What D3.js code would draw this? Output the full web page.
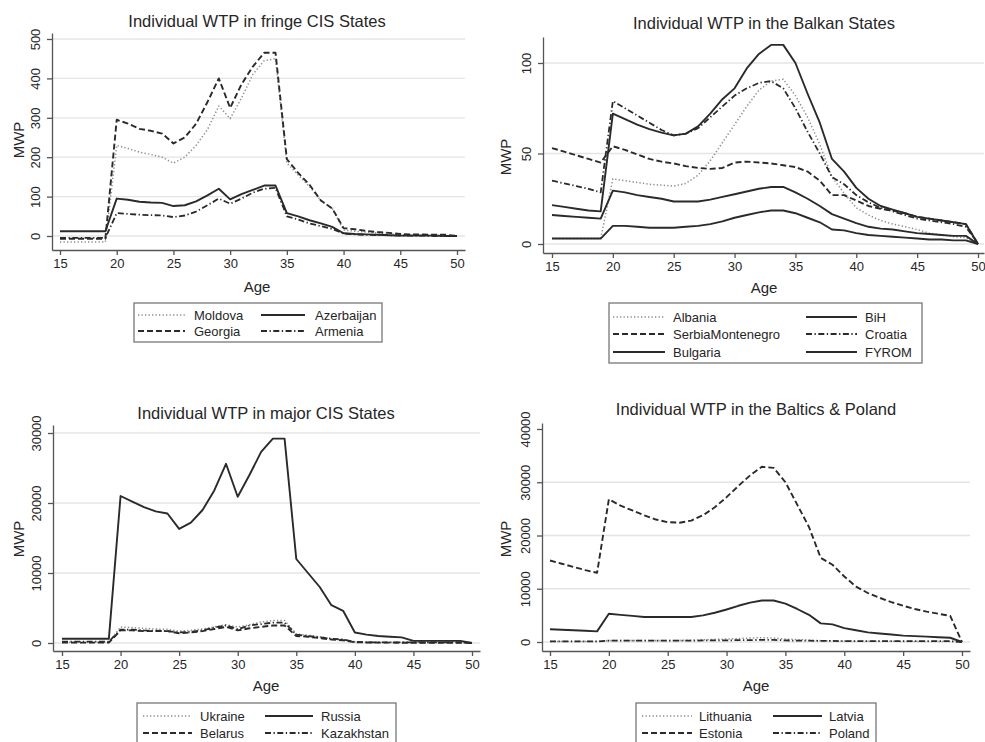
<!DOCTYPE html>
<html>
<head>
<meta charset="utf-8">
<script src="https://cdn.jsdelivr.net/npm/d3@7"></script>
<style>
  body { margin: 0; background: #fff; }
  svg { display: block; font-family: "Liberation Sans", Arial, sans-serif; }
</style>
</head>
<body>
<svg id="chart" width="985" height="742"></svg>
<script>
// ages on the x axis
var ages = [15,16,17,18,19,20,21,22,23,24,25,26,27,28,29,30,31,32,33,34,35,36,37,38,39,40,41,42,43,44,45,46,47,48,49,50];

// fringe CIS states
var moldova    = [-15,-15,-15,-15,-15, 230,222,213,207,200, 185,200,230,270,330, 298,350,410,445,450, 185,155,125,90,70, 15,12,10,8,6, 3,2,2,1,1, 0];
var azerbaijan = [12,12,12,12,12, 95,92,87,85,84, 76,78,88,103,120, 93,106,117,128,128, 58,50,40,32,23, 7,5,4,3,2, 1,1,1,1,0, 0];
var georgia    = [-7,-7,-7,-7,-7, 295,285,272,267,260, 235,250,285,340,400, 325,385,430,465,465, 195,160,130,90,70, 20,17,13,10,8, 5,4,4,3,3, 0];
var armenia    = [-5,-5,-5,-5,-5, 58,56,54,53,52, 48,52,62,78,95, 82,95,110,120,122, 50,42,32,25,18, 6,4,3,2,2, 1,1,1,0,0, 0];

// Balkan states
var albania  = [3,3,3,3,3, 36,35,34,33,32.5, 32,33.5,38,46,56, 66,76,85,90,91, 82,70,55,37,28, 20,16,13,11,9.5, 8,6,5,4,3.5, 0];
var bih      = [21.5,20.5,19.5,18.5,18, 72,69,66,63.5,61.5, 60,61,65,72,80, 86,97,105,110,110, 100,83,67,47,40, 31,25,21,19,17, 15,14,13,12,11, 0];
var serbiaMontenegro = [53,51,49,47,45, 54,52,49.5,47,45.5, 44.5,43,42,41.5,42, 45,45.5,45,44.5,43.5, 42.5,40,35,27,27, 24,21,19.5,18.5,17, 15,14,13,12,11, 0];
var croatia  = [35,33.5,32,30.5,28.5, 79,75,71,67,63, 60,61,64,70,76, 82,86,89,90,86, 75,62,50,37,33, 27,23,20,18,16, 14,13,12,11,9.5, 0];
var bulgaria = [16,15.5,15,14.5,14, 29.5,28.5,27,26,25, 23.5,23.5,23.5,24.5,26, 27.5,29,30.5,31.5,31.5, 28.5,25,21,16.5,14, 11.5,9.5,8.5,8,7, 6,5.5,5,4.5,4.5, 0];
var fyrom    = [3,3,3,3,3, 10,10,9.5,9,9, 9,9.5,10,11,12.5, 14.5,16,17.5,18.5,18.5, 17,14.5,12,8,7.5, 6,5,4.5,4,3.5, 3,2.5,2.5,2,2, 0];

// major CIS states
var ukraine    = [100,100,100,100,100, 2300,2200,2100,2000,1950, 1700,1800,2000,2300,2600, 2300,2600,3000,3200,3200, 1300,1100,900,600,500, 150,100,100,100,100, 100,100,100,100,100, 0];
var russia     = [600,600,600,600,600, 21000,20200,19400,18800,18500, 16300,17200,19000,21800,25600, 20900,24000,27300,29200,29200, 12000,10000,8000,5400,4600, 1500,1200,1000,900,800, 300,300,300,300,300, 0];
var belarus    = [50,50,50,50,50, 1800,1800,1700,1700,1700, 1400,1500,1700,2000,2300, 1800,2100,2300,2500,2500, 1000,900,700,500,400, 100,80,60,50,40, 30,30,30,30,30, 0];
var kazakhstan = [200,200,200,200,200, 1900,1900,1800,1750,1700, 1500,1600,1800,2200,2500, 2000,2500,2700,2900,2900, 1200,1000,800,600,500, 150,100,100,100,100, 100,100,100,100,100, 0];

// Baltics & Poland
var lithuania = [100,100,100,100,100, 300,300,300,300,300, 300,300,350,400,500, 550,650,750,800,750, 550,450,350,250,200, 200,150,150,150,150, 100,100,100,100,100, 0];
var latvia    = [2400,2300,2200,2100,2000, 5300,5100,4900,4700,4700, 4700,4700,4700,5000,5500, 6100,6800,7400,7800,7800, 7200,6200,5100,3500,3300, 2600,2200,1800,1600,1400, 1200,1100,1000,900,800, 0];
var estonia   = [15300,14700,14100,13500,13000, 26800,25600,24700,23800,23000, 22500,22400,22800,23800,25300, 27200,29300,31300,32900,32700, 30000,25800,21600,15800,14500, 12300,10400,9200,8300,7500, 6800,6200,5700,5300,4900, 0];
var poland    = [100,100,100,100,100, 250,250,250,250,250, 250,250,250,300,300, 300,350,350,400,400, 300,250,250,200,200, 150,150,150,150,150, 150,150,150,150,150, 0];

// tick labels
var xTicks = [15,20,25,30,35,40,45,50];
var yTicksFringe = [0,100,200,300,400,500];
var yTicksBalkan = [0,50,100];
var yTicksMajor  = [0,10000,20000,30000];
var yTicksBaltic = [0,10000,20000,30000,40000];

var styles = {
  dot:     { color: "#8c8c8c", dash: "1.3,2.2", width: 1.5 },
  solid:   { color: "#2a2a2a", dash: null,      width: 1.9 },
  dash:    { color: "#2a2a2a", dash: "6,3",     width: 1.9 },
  dashdot: { color: "#2a2a2a", dash: "6,2.5,1.3,2.5", width: 1.8 }
};

var panels = [
  { title: "Individual WTP in fringe CIS States",
    series: [["Moldova", moldova, "dot"], ["Azerbaijan", azerbaijan, "solid"],
             ["Georgia", georgia, "dash"], ["Armenia", armenia, "dashdot"]],
    yTicks: yTicksFringe, grid: yTicksFringe,
    left: 52, right: 465, top: 33, bottom: 250, x15: 60, x50: 457, y0: 236, yTop: 39,
    titleY: 21, titleX: 257, ageY: 286, mwpX: 18, mwpY: 140,
    legend: { x0: 134, x1: 382, y0: 303, y1: 342, rows: [315, 331],
              cols: [[138, 185, 194], [261, 305, 315]] } },
  { title: "Individual WTP in the Balkan States",
    series: [["Albania", albania, "dot"], ["BiH", bih, "solid"],
             ["SerbiaMontenegro", serbiaMontenegro, "dash"], ["Croatia", croatia, "dashdot"],
             ["Bulgaria", bulgaria, "solid"], ["FYROM", fyrom, "solid"]],
    yTicks: yTicksBalkan, grid: yTicksBalkan,
    left: 543, right: 984, top: 37, bottom: 253, x15: 552, x50: 978, y0: 244, yTop: 63,
    titleY: 23, titleX: 764, ageY: 287, mwpX: 505, mwpY: 157,
    legend: { x0: 609, x1: 922, y0: 303, y1: 363, rows: [317, 334, 352],
              cols: [[613, 665, 673], [806, 857, 865]] } },
  { title: "Individual WTP in major CIS States",
    series: [["Ukraine", ukraine, "dot"], ["Russia", russia, "solid"],
             ["Belarus", belarus, "dash"], ["Kazakhstan", kazakhstan, "dashdot"]],
    yTicks: yTicksMajor, grid: yTicksMajor,
    left: 53, right: 480, top: 425, bottom: 651, x15: 62, x50: 472, y0: 643, yTop: 433,
    titleY: 413, titleX: 266, ageY: 685, mwpX: 18, mwpY: 539,
    legend: { x0: 137, x1: 396, y0: 703, y1: 752, rows: [716, 733],
              cols: [[143, 192, 200], [265, 313, 321]] } },
  { title: "Individual WTP in the Baltics & Poland",
    series: [["Lithuania", lithuania, "dot"], ["Latvia", latvia, "solid"],
             ["Estonia", estonia, "dash"], ["Poland", poland, "dashdot"]],
    yTicks: yTicksBaltic, grid: [0,10000,20000,30000],
    left: 542, right: 970, top: 423, bottom: 651, x15: 550, x50: 962, y0: 642, yTop: 429,
    titleY: 409, titleX: 756, ageY: 685, mwpX: 505, mwpY: 539,
    legend: { x0: 636, x1: 876, y0: 703, y1: 752, rows: [716, 733],
              cols: [[642, 692, 699], [773, 822, 829]] } }
];

var svg = d3.select("#chart");

panels.forEach(function(p) {
  var g = svg.append("g");
  var yMax = p.yTicks[p.yTicks.length - 1];

  var x = d3.scaleLinear().domain([15, 50]).range([p.x15, p.x50]);
  var y = d3.scaleLinear().domain([0, yMax]).range([p.y0, p.yTop]);
  // stretch the domains so the axis lines reach the plot edges
  x.domain([x.invert(p.left), x.invert(p.right)]).range([p.left, p.right]);
  y.domain([y.invert(p.bottom), y.invert(p.top)]).range([p.bottom, p.top]);

  // grid
  g.selectAll(".grid").data(p.grid).enter().append("line")
    .attr("x1", p.left).attr("x2", p.right)
    .attr("y1", function(d) { return y(d); })
    .attr("y2", function(d) { return y(d); })
    .attr("stroke", "#e4e4e4").attr("stroke-width", 1.3);

  // axes
  var xa = g.append("g")
    .attr("transform", "translate(0," + p.bottom + ")")
    .call(d3.axisBottom(x).tickValues(xTicks).tickFormat(d3.format("d"))
      .tickSize(5).tickSizeOuter(0).tickPadding(4));
  var ya = g.append("g")
    .attr("transform", "translate(" + p.left + ",0)")
    .call(d3.axisLeft(y).tickValues(p.yTicks).tickFormat(d3.format("d"))
      .tickSize(5).tickSizeOuter(0));

  [xa, ya].forEach(function(a) {
    a.select(".domain").attr("stroke", "#555").attr("stroke-width", 1.3);
    a.selectAll(".tick line").attr("stroke", "#555").attr("stroke-width", 1.3);
    a.selectAll("text").attr("fill", "#262626").style("font-size", "13px");
  });
  ya.selectAll("text")
    .attr("x", null).attr("dy", null)
    .attr("text-anchor", "middle")
    .attr("transform", "translate(-12.5,0) rotate(-90)");

  // series
  var line = d3.line()
    .x(function(d, i) { return x(ages[i]); })
    .y(function(d) { return y(d); });

  p.series.forEach(function(s) {
    var st = styles[s[2]];
    g.append("path")
      .datum(s[1])
      .attr("d", line)
      .attr("fill", "none")
      .attr("stroke", st.color)
      .attr("stroke-width", st.width)
      .attr("stroke-dasharray", st.dash)
      .attr("stroke-linejoin", "round");
  });

  // titles
  g.append("text")
    .attr("x", p.titleX).attr("y", p.titleY)
    .attr("text-anchor", "middle").attr("dominant-baseline", "central")
    .style("font-size", "16.5px").attr("fill", "#262626")
    .text(p.title);
  g.append("text")
    .attr("x", p.titleX).attr("y", p.ageY)
    .attr("text-anchor", "middle").attr("dominant-baseline", "central")
    .style("font-size", "15px").attr("fill", "#262626")
    .text("Age");
  g.append("text")
    .attr("transform", "translate(" + p.mwpX + "," + p.mwpY + ") rotate(-90)")
    .attr("text-anchor", "middle").attr("dominant-baseline", "central")
    .style("font-size", "15px").attr("fill", "#262626")
    .text("MWP");

  // legend
  var L = p.legend;
  g.append("rect")
    .attr("x", L.x0).attr("y", L.y0)
    .attr("width", L.x1 - L.x0).attr("height", L.y1 - L.y0)
    .attr("fill", "#fff").attr("stroke", "#777").attr("stroke-width", 1.3);

  p.series.forEach(function(s, i) {
    var st = styles[s[2]];
    var c = L.cols[i % 2], ry = L.rows[Math.floor(i / 2)];
    g.append("line")
      .attr("x1", c[0]).attr("x2", c[1]).attr("y1", ry).attr("y2", ry)
      .attr("stroke", st.color).attr("stroke-width", st.width)
      .attr("stroke-dasharray", st.dash);
    g.append("text")
      .attr("x", c[2]).attr("y", ry)
      .attr("dominant-baseline", "central")
      .style("font-size", "13px").attr("fill", "#262626")
      .text(s[0]);
  });
});
</script>
</body>
</html>
